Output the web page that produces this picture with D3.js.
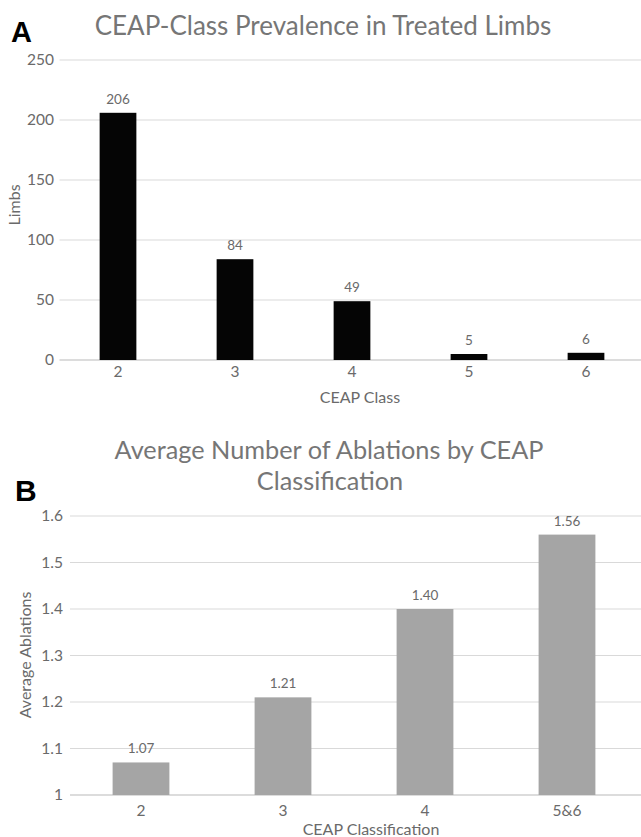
<!DOCTYPE html>
<html><head><meta charset="utf-8">
<script src="https://cdn.jsdelivr.net/npm/d3@7"></script>
<style>
body{margin:0;background:#fff;}
svg{display:block;}
text{font-family:Lato,"Open Sans",sans-serif;fill:#6a6a6a;}
text.title{fill:#767676;}
</style></head>
<body><svg id="c" width="641" height="837"></svg>
<script>
// Panel A
const classesA = ["2","3","4","5","6"];
const limbsA = [206, 84, 49, 5, 6];
const ticksA = [0, 50, 100, 150, 200, 250];
// Panel B
const classesB = ["2","3","4","5&6"];
const ablationsB = [1.07, 1.21, 1.40, 1.56];
const ticksB = [1, 1.1, 1.2, 1.3, 1.4, 1.5, 1.6];

const svg = d3.select("#c");
const W = 641;

// ---------- Panel A ----------
const xA = d3.scaleBand().domain(classesA).range([59.5, 644.5]).paddingInner(0.686).paddingOuter(0.343);
const yA = d3.scaleLinear().domain([0, 250]).range([360, 60]);
const gA = svg.append("g");
gA.selectAll("line.grid").data(ticksA).join("line")
  .attr("x1", 59.5).attr("x2", W).attr("y1", d => yA(d)).attr("y2", d => yA(d))
  .attr("stroke", d => d === 0 ? "#d0d0d0" : "#d9d9d9").attr("stroke-width", d => d === 0 ? 1.5 : 1);
gA.selectAll("text.yt").data(ticksA).join("text")
  .attr("x", 54).attr("y", d => yA(d)).attr("dy", "0.35em").attr("text-anchor", "end")
  .style("font-size", "15.5px").text(d => d);
gA.selectAll("rect").data(classesA).join("rect")
  .attr("x", d => xA(d)).attr("width", xA.bandwidth())
  .attr("y", (d, i) => yA(limbsA[i])).attr("height", (d, i) => yA(0) - yA(limbsA[i]))
  .attr("fill", "#050505");
gA.selectAll("text.val").data(classesA).join("text")
  .attr("x", d => xA(d) + xA.bandwidth() / 2).attr("y", (d, i) => yA(limbsA[i]) - 9)
  .attr("text-anchor", "middle").style("font-size", "13.5px").text((d, i) => limbsA[i]);
gA.selectAll("text.xt").data(classesA).join("text")
  .attr("x", d => xA(d) + xA.bandwidth() / 2).attr("y", 377)
  .attr("text-anchor", "middle").style("font-size", "15.5px").text(d => d);
gA.append("text").attr("x", 360).attr("y", 403).attr("text-anchor", "middle")
  .style("font-size", "16px").text("CEAP Class");
gA.append("text").attr("transform", "translate(20,205) rotate(-90)").attr("text-anchor", "middle")
  .style("font-size", "16px").text("Limbs");
gA.append("text").attr("class", "title").attr("x", 323).attr("y", 35).attr("text-anchor", "middle")
  .style("font-size", "26px").text("CEAP-Class Prevalence in Treated Limbs");
gA.append("text").attr("x", 11).attr("y", 42).style("font-family", "'Liberation Sans',Arial,sans-serif")
  .style("font-weight", "bold").style("font-size", "29px").style("fill", "#000").text("A");

// ---------- Panel B ----------
const xB = d3.scaleBand().domain(classesB).range([70, 638]).paddingInner(0.6).paddingOuter(0.3);
const yB = d3.scaleLinear().domain([1, 1.6]).range([795, 516]);
const gB = svg.append("g");
gB.selectAll("line.grid").data(ticksB).join("line")
  .attr("x1", 70).attr("x2", W).attr("y1", d => yB(d)).attr("y2", d => yB(d))
  .attr("stroke", d => d === 1 ? "#d0d0d0" : "#d9d9d9").attr("stroke-width", d => d === 1 ? 1.5 : 1);
gB.selectAll("text.yt").data(ticksB).join("text")
  .attr("x", 63).attr("y", d => yB(d)).attr("dy", "0.35em").attr("text-anchor", "end")
  .style("font-size", "15.5px").text(d => d3.format("~g")(d));
gB.selectAll("rect").data(classesB).join("rect")
  .attr("x", d => xB(d)).attr("width", xB.bandwidth())
  .attr("y", (d, i) => yB(ablationsB[i])).attr("height", (d, i) => yB(1) - yB(ablationsB[i]))
  .attr("fill", "#a5a5a5");
gB.selectAll("text.val").data(classesB).join("text")
  .attr("x", d => xB(d) + xB.bandwidth() / 2).attr("y", (d, i) => yB(ablationsB[i]) - 9)
  .attr("text-anchor", "middle").style("font-size", "13.5px").text((d, i) => ablationsB[i].toFixed(2));
gB.selectAll("text.xt").data(classesB).join("text")
  .attr("x", d => xB(d) + xB.bandwidth() / 2).attr("y", 816)
  .attr("text-anchor", "middle").style("font-size", "15.5px").text(d => d);
gB.append("text").attr("x", 371).attr("y", 835).attr("text-anchor", "middle")
  .style("font-size", "16px").text("CEAP Classification");
gB.append("text").attr("transform", "translate(31,655) rotate(-90)").attr("text-anchor", "middle")
  .style("font-size", "16px").text("Average Ablations");
gB.append("text").attr("class", "title").attr("x", 329).attr("y", 459).attr("text-anchor", "middle")
  .style("font-size", "25.3px").text("Average Number of Ablations by CEAP");
gB.append("text").attr("class", "title").attr("x", 330).attr("y", 490).attr("text-anchor", "middle")
  .style("font-size", "25.3px").text("Classification");
gB.append("text").attr("x", 15).attr("y", 501).style("font-family", "'Liberation Sans',Arial,sans-serif")
  .style("font-weight", "bold").style("font-size", "30px").style("fill", "#000").text("B");
</script></body></html>
